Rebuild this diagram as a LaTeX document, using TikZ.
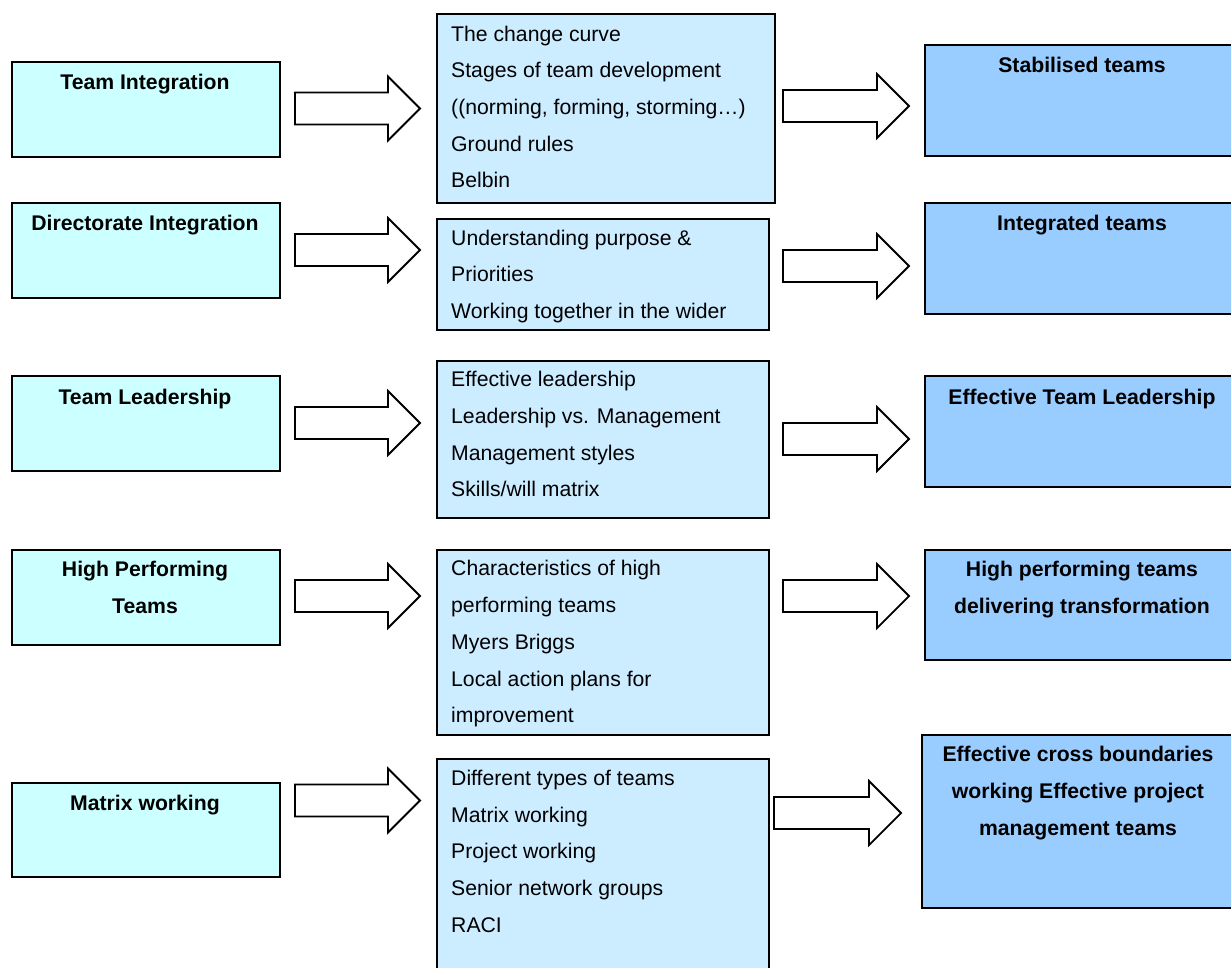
\documentclass[tikz,border=0pt]{standalone}
\usepackage{fontspec}
\setmainfont{Liberation Sans}
\definecolor{leftc}{HTML}{CCFFFF}
\definecolor{midc}{HTML}{CCECFF}
\definecolor{rightc}{HTML}{99CCFF}
\newcommand{\myblockarrow}[3]{%
  \draw[blockarrow] (#1,#3-16) -- (#2-32,#3-16) -- (#2-32,#3-32) -- (#2,#3)
    -- (#2-32,#3+32) -- (#2-32,#3+16) -- (#1,#3+16) -- cycle;}
\begin{document}
\begin{tikzpicture}[x=1pt,y=-1pt,
  box/.style={draw=black, line width=1.8pt, inner sep=0pt, anchor=north west},
  leftbox/.style={box, fill=leftc, minimum width=268pt},
  midbox/.style={box, fill=midc, minimum width=332pt},
  rightbox/.style={box, fill=rightc, minimum width=318pt},
  txt/.style={inner sep=0pt, anchor=base west, font=\fontsize{21.2}{25}\selectfont},
  btxt/.style={inner sep=0pt, anchor=base, font=\bfseries\fontsize{21.2}{25}\selectfont},
  blockarrow/.style={draw=black, fill=white, line width=1.8pt, line join=miter}]
\useasboundingbox (0,0) rectangle (1231,967);
\clip (0,0) rectangle (1231,967);

% left boxes
\node[leftbox, minimum height=95pt] (l1) at (11,61) {};
\node[leftbox, minimum height=95pt] (l2) at (11,202) {};
\node[leftbox, minimum height=95pt] (l3) at (11,375) {};
\node[leftbox, minimum height=95pt] (l4) at (11,549) {};
\node[leftbox, minimum height=94pt] (l5) at (11,782) {};
\node[btxt] (l1t) at (145,89.3) {Team Integration};
\node[btxt] (l2t) at (145,230) {Directorate Integration};
\node[btxt] (l3t) at (145,404) {Team Leadership};
\node[btxt] (l4t) at (145,576.7) {High Performing};
\node[btxt] (l4u) at (145,613) {Teams};
\node[btxt] (l5t) at (145,810.7) {Matrix working};

% middle boxes
\node[midbox, minimum width=338pt, minimum height=189pt] (m1) at (436,13) {};
\node[midbox, minimum height=111pt] (m2) at (436,218) {};
\node[midbox, minimum height=157pt] (m3) at (436,360) {};
\node[midbox, minimum height=185pt] (m4) at (436,549) {};
\node[midbox, minimum height=240pt] (m5) at (436,758) {};

\node[txt] (m1a) at (451,41) {The change curve};
\node[txt] (m1b) at (451,77.7) {Stages of team development};
\node[txt] (m1c) at (451,114.4) {((norming, forming, storming…)};
\node[txt] (m1d) at (451,151.1) {Ground rules};
\node[txt] (m1e) at (451,187.8) {Belbin};

\begin{scope}
\clip (436,218) rectangle (768,322);
\node[txt] (m2a) at (451,245) {Understanding purpose \&};
\node[txt] (m2b) at (451,281.7) {Priorities};
\node[txt] (m2c) at (451,318.3) {Working together in the wider};
\end{scope}

\node[txt] (m3a) at (451,386.7) {Effective leadership};
\node[txt] (m3b) at (451,423.3) {Leadership vs. Management};
\node[txt] (m3c) at (451,460) {Management styles};
\node[txt] (m3d) at (451,496.7) {Skills/will matrix};

\node[txt] (m4a) at (451,575.7) {Characteristics of high};
\node[txt] (m4b) at (451,612.5) {performing teams};
\node[txt] (m4c) at (451,649) {Myers Briggs};
\node[txt] (m4d) at (451,686) {Local action plans for};
\node[txt] (m4e) at (451,722.7) {improvement};

\node[txt] (m5a) at (451,785) {Different types of teams};
\node[txt] (m5b) at (451,822) {Matrix working};
\node[txt] (m5c) at (451,858.7) {Project working};
\node[txt] (m5d) at (451,895.3) {Senior network groups};
\node[txt] (m5e) at (451,932) {RACI};

% right boxes
\node[rightbox, minimum height=111pt] (r1) at (924,44) {};
\node[rightbox, minimum height=111pt] (r2) at (924,202) {};
\node[rightbox, minimum height=111pt] (r3) at (924,375) {};
\node[rightbox, minimum height=110pt] (r4) at (924,549) {};
\node[rightbox, minimum width=320pt, minimum height=173pt] (r5) at (921,734) {};
\node[btxt] (r1t) at (1082,72.7) {Stabilised teams};
\node[btxt] (r2t) at (1082,230) {Integrated teams};
\node[btxt] (r3t) at (1082,404) {Effective Team Leadership};
\node[btxt] (r4t) at (1082,576.7) {High performing teams};
\node[btxt] (r4u) at (1082,613.3) {delivering transformation};
\node[btxt] (r5t) at (1078,761.3) {Effective cross boundaries};
\node[btxt] (r5u) at (1078,798.3) {working Effective project};
\node[btxt] (r5v) at (1078,835) {management teams};

% block arrows
\myblockarrow{295}{420}{108.5}
\myblockarrow{295}{420}{250}
\myblockarrow{295}{420}{423}
\myblockarrow{295}{420}{596}
\myblockarrow{295}{420}{800.5}
\myblockarrow{783}{909}{106}
\myblockarrow{783}{909}{266}
\myblockarrow{783}{909}{439}
\myblockarrow{783}{909}{596}
\myblockarrow{774}{901}{813}
\end{tikzpicture}
\end{document}
